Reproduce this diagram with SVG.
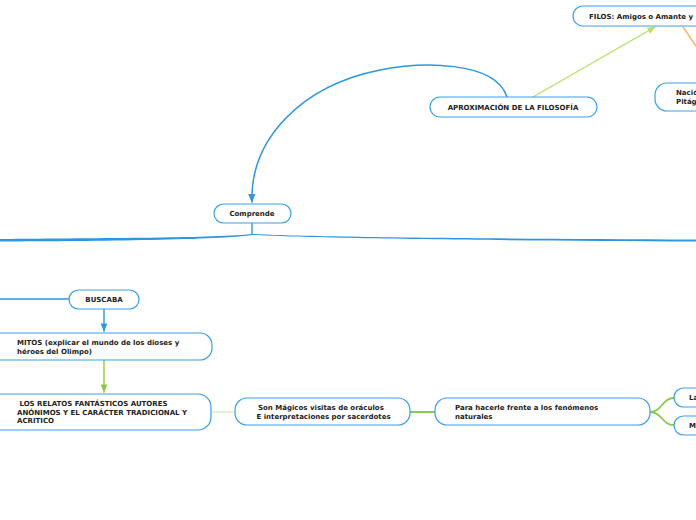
<svg xmlns="http://www.w3.org/2000/svg" width="696" height="520" viewBox="0 0 696 520">
<style>
.n{fill:#fff;stroke:#3aa0e6;stroke-width:1.2}
.t{font-family:"DejaVu Sans",Verdana,sans-serif;font-weight:bold;font-size:7px;fill:#222}
.c{fill:none;stroke-linecap:round}
</style>
<defs>
<marker id="ab" viewBox="0 0 10 10" refX="9" refY="5" markerWidth="6" markerHeight="6" orient="auto"><path d="M0,1 L10,5 L0,9 z" fill="#2a97e0"/></marker>
<marker id="ag" viewBox="0 0 10 10" refX="9" refY="5" markerWidth="6" markerHeight="6" orient="auto"><path d="M0,1 L10,5 L0,9 z" fill="#b5e06a"/></marker>
<marker id="ag2" viewBox="0 0 10 10" refX="9" refY="5" markerWidth="6" markerHeight="6" orient="auto"><path d="M0,1 L10,5 L0,9 z" fill="#8cc84b"/></marker>
</defs>
<g id="connectors">
<path class="c" d="M533,97 L655,27" stroke="#b5e06a" stroke-width="1.4" marker-end="url(#ag)"/>
<path class="c" d="M683,27 L700,52" stroke="#f9b36b" stroke-width="1.4"/>
<path class="c" d="M507,97 C495,60 420,62 380,70 C300,86 250,140 252,202" stroke="#2a97e0" stroke-width="1.5" marker-end="url(#ab)"/>
<path class="c" d="M252,223 L252,234" stroke="#2a97e0" stroke-width="1.4"/>
<path d="M252,234 C220,238 100,238 0,239 L0,241.5 C100,241 220,240 252,235 z" fill="#2a97e0"/>
<path d="M252,234 C300,237 500,239 696,239.5 L696,241.5 C500,241 300,238 252,235 z" fill="#2a97e0"/>
<path class="c" d="M0,299 L69,299" stroke="#2a97e0" stroke-width="1.4"/>
<path class="c" d="M104,309 L104,331" stroke="#2a97e0" stroke-width="1.4" marker-end="url(#ab)"/>
<path class="c" d="M104,360 L104,392" stroke="#8cc84b" stroke-width="1.4" marker-end="url(#ag2)"/>
<path class="c" d="M211,412 L235,412" stroke="#d8efc0" stroke-width="1.4"/>
<path class="c" d="M410,412 L435,412" stroke="#8cc84b" stroke-width="1.8"/>
<path class="c" d="M650,412 C662,412 662,398 674,398" stroke="#8cc84b" stroke-width="1.8"/>
<path class="c" d="M650,412 C662,412 662,425 674,425" stroke="#8cc84b" stroke-width="1.8"/>
</g>
<g id="filos"><rect class="n" x="573" y="6" width="140" height="20" rx="10"/><text class="t" x="589" y="19">FILOS: Amigos o Amante y</text></g>
<g id="nacio"><rect class="n" x="655" y="83" width="60" height="28" rx="12"/><text class="t" x="676" y="95">Nació</text><text class="t" x="676" y="104">Pitág</text></g>
<g id="aprox"><rect class="n" x="430" y="97" width="167" height="20" rx="10"/><text class="t" x="513" y="110" text-anchor="middle">APROXIMACIÓN DE LA FILOSOFÍA</text></g>
<g id="comprende"><rect class="n" x="214" y="204" width="77" height="19" rx="9.5"/><text class="t" x="252" y="216" text-anchor="middle">Comprende</text></g>
<g id="buscaba"><rect class="n" x="69" y="290" width="70" height="19" rx="9.5"/><text class="t" x="104" y="302" text-anchor="middle">BUSCABA</text></g>
<g id="mitos"><rect class="n" x="-20" y="333" width="232" height="27" rx="12"/><text class="t" x="17" y="345">MITOS (explicar el mundo de los dioses y</text><text class="t" x="17" y="354">héroes del Olimpo)</text></g>
<g id="relatos"><rect class="n" x="-20" y="394" width="231" height="36" rx="13"/><text class="t" x="17" y="406" xml:space="preserve"> LOS RELATOS FANTÁSTICOS AUTORES</text><text class="t" x="17" y="415">ANÓNIMOS Y EL CARÁCTER TRADICIONAL Y</text><text class="t" x="17" y="423">ACRITICO</text></g>
<g id="magicos"><rect class="n" x="235" y="398" width="175" height="27" rx="12"/><text class="t" x="258" y="410">Son Mágicos visitas de oráculos</text><text class="t" x="254" y="419" xml:space="preserve"> E interpretaciones por sacerdotes</text></g>
<g id="para"><rect class="n" x="435" y="398" width="215" height="27" rx="12"/><text class="t" x="455" y="410">Para hacerle frente a los fenómenos</text><text class="t" x="455" y="419">naturales</text></g>
<g id="la"><rect class="n" x="674" y="388" width="40" height="19" rx="9.5"/><text class="t" x="689" y="400">La</text></g>
<g id="m"><rect class="n" x="674" y="416" width="40" height="19" rx="9.5"/><text class="t" x="689" y="428">M</text></g>
</svg>
